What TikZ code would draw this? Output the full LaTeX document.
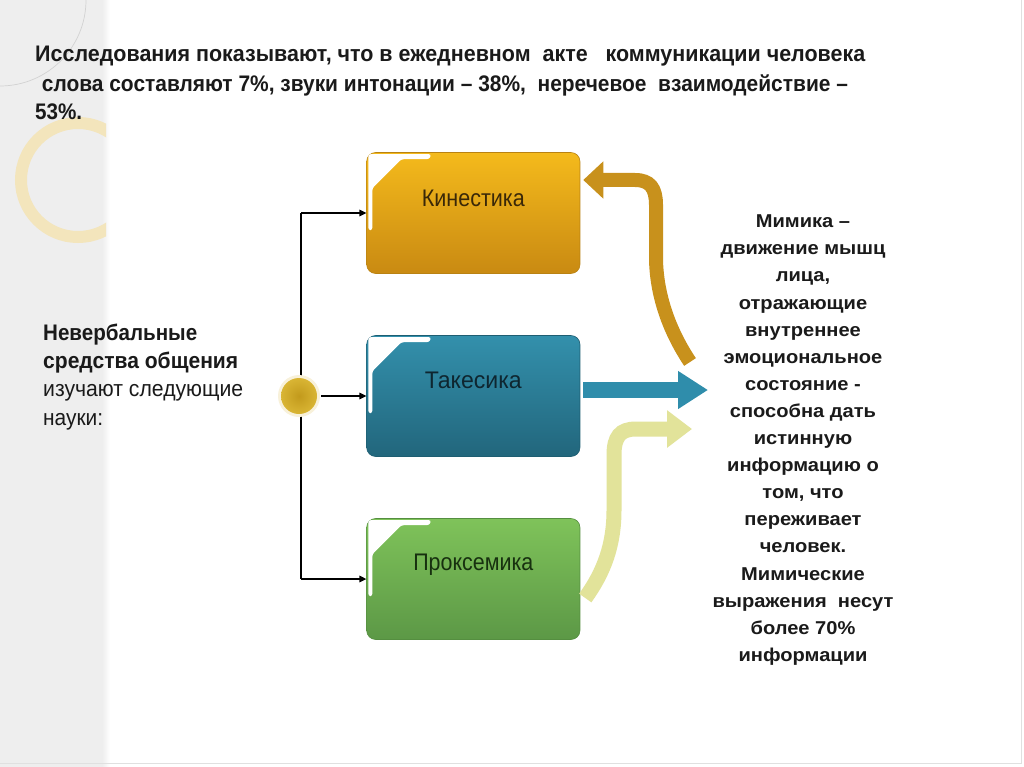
\documentclass[tikz,border=0pt]{standalone}
\usepackage{fontspec}
\setmainfont{Liberation Sans}
\newfontfamily\rfont[FakeStretch=1.08]{Liberation Sans}
\usepackage{graphicx}
\usetikzlibrary{arrows.meta,calc}
\definecolor{bandgray}{HTML}{EEEEEE}
\definecolor{ringc}{HTML}{F3E5BC}
\definecolor{arcc}{HTML}{D2D2D2}
\definecolor{txtdark}{HTML}{1A1A1A}
\definecolor{goldtop}{HTML}{F4BA1C}
\definecolor{goldbot}{HTML}{C98A12}
\definecolor{goldedge}{HTML}{B98212}
\definecolor{goldtxt}{HTML}{3A2808}
\definecolor{tealtop}{HTML}{3390AC}
\definecolor{tealbot}{HTML}{22667C}
\definecolor{tealedge}{HTML}{1E5E72}
\definecolor{tealtxt}{HTML}{0E2630}
\definecolor{greentop}{HTML}{7FC35A}
\definecolor{greenbot}{HTML}{5C9846}
\definecolor{greenedge}{HTML}{558E40}
\definecolor{greentxt}{HTML}{17300F}
\definecolor{garrow}{HTML}{C8911C}
\definecolor{tarrow}{HTML}{2F8DAB}
\definecolor{yarrow}{HTML}{E2E39A}
\definecolor{dotin}{HTML}{C29A1C}
\definecolor{dotout}{HTML}{D9B534}
\definecolor{halo}{HTML}{F8F1DA}
\newcommand\fitto[2]{\resizebox{#1}{\height}{#2}}
\begin{document}
\begin{tikzpicture}[x=1pt,y=-1pt,
  box/.style={rounded corners=9pt, minimum width=213.3pt, minimum height=121pt, inner sep=0pt, line width=0.6pt},
  glare/.style={fill=white, rounded corners=2.5pt},
  boxtxt/.style={anchor=base, inner sep=0pt, font=\fontsize{24pt}{28pt}\selectfont},
  ttl/.style={anchor=base west, inner sep=0pt, text=txtdark, font=\bfseries\fontsize{22.5pt}{26pt}\selectfont},
  lft/.style={anchor=base west, inner sep=0pt, text=txtdark, font=\fontsize{22.5pt}{26pt}\selectfont},
  rtext/.style={align=center, inner sep=0pt, text=txtdark, font=\rfont\bfseries\fontsize{18.6pt}{27.1pt}\selectfont},
  wire/.style={line width=1.4pt, black},
  conn/.style={line width=1.4pt, black, -{Triangle[length=7pt,width=6.5pt]}},
  bigarrow/.style={line cap=butt}
]
\useasboundingbox (0,0) rectangle (1024,767);
% background
\fill[white] (0,0) rectangle (1024,767);
\fill[bandgray] (0,0) rectangle (102,767);
\shade[left color=bandgray, right color=white] (102,0) rectangle (110,767);
\begin{scope}
  \clip (0,0) rectangle (106,767);
  \draw[ringc, line width=12pt] (78,180) circle (57pt);
  \draw[arcc, line width=0.7pt] (0,0) circle (86pt);
\end{scope}
\draw[black!12, line width=0.8pt] (1021,0) -- (1021,763) -- (0,763);

% title
\node[ttl] (t1) at (35,61.7) {\fitto{830pt}{Исследования показывают, что в ежедневном\ \ акте\ \ \ коммуникации человека}};
\node[ttl] (t2) at (41.7,91.7) {\fitto{806pt}{слова составляют 7\%, звуки интонации – 38\%,\ \ неречевое\ \ взаимодействие –}};
\node[ttl] (t3) at (35,120) {\fitto{47pt}{53\%.}};

% left text
\node[lft, font=\bfseries\fontsize{22.5pt}{26pt}\selectfont] (l1) at (43,340) {\fitto{154pt}{Невербальные}};
\node[lft, font=\bfseries\fontsize{22.5pt}{26pt}\selectfont] (l2) at (43,368) {\fitto{195pt}{средства общения}};
\node[lft] (l3) at (43,396) {\fitto{200pt}{изучают следующие}};
\node[lft] (l4) at (43,425) {\fitto{60pt}{науки:}};

% boxes
\node[box, draw=goldedge, top color=goldtop, bottom color=goldbot] (kin) at (473.3,213) {};
\node[box, draw=tealedge, top color=tealtop, bottom color=tealbot] (tak) at (473.3,396) {};
\node[box, draw=greenedge, top color=greentop, bottom color=greenbot] (prx) at (473.3,579) {};
\foreach \b in {kin,tak,prx}{
  \fill[glare] ($(\b.north west)+(2,2)$) -- ($(\b.north west)+(65,2)$) -- ($(\b.north west)+(63,7)$)
     -- ($(\b.north west)+(35,7)$) -- ($(\b.north west)+(6,36)$) -- ($(\b.north west)+(6,78)$)
     -- ($(\b.north west)+(2,78)$) -- cycle;
}
\node[boxtxt, text=goldtxt] (kint) at ($(kin.center)+(0,-6.5)$) {\fitto{103pt}{Кинестика}};
\node[boxtxt, text=tealtxt] (takt) at ($(tak.center)+(0,-8)$) {\fitto{97pt}{Такесика}};
\node[boxtxt, text=greentxt] (prxt) at ($(prx.center)+(0,-8.5)$) {\fitto{120pt}{Проксемика}};

% tree connectors
\coordinate (j1) at (301,213);
\coordinate (j3) at (301,579);
\draw[wire] (j1) -- (j3);
\fill[halo] (299,396) circle (21pt);
\node[circle, minimum size=36pt, inner sep=0pt, inner color=dotin, outer color=dotout] (dot) at (299,396) {};
\draw[conn] (j1) -- (kin.west);
\draw[conn, shorten <=4pt] (dot.east) -- (tak.west);
\draw[conn] (j3) -- (prx.west);

% right text
\node[rtext, anchor=north] (mim) at (803,214.7) {Мимика –\\движение мышц\\лица,\\отражающие\\внутреннее\\эмоциональное\\состояние -\\способна дать\\истинную\\информацию о\\том, что\\переживает\\человек.\\Мимические\\выражения\ \ несут\\более 70\%\\информации};

% big arrows
\coordinate (gs) at (690,362);
\coordinate (gt) at ($(kin.east)+(3,-33)$);
\coordinate (ts) at ($(tak.east)+(3,-6)$);
\coordinate (tt) at (708,390);
\coordinate (ys) at ($(prx.east)+(5,19)$);
\coordinate (yt) at (692,429);
\draw[bigarrow, garrow, line width=14pt, -{Triangle[length=20pt,width=36pt]}]
  (gs) .. controls (672,335) and (657,300) .. (656,260) -- (656,205)
  .. controls (656,188) and (650,180) .. (635,180) -- (gt);
\draw[bigarrow, tarrow, line width=16pt, -{Triangle[length=30pt,width=36pt]}] (ts) -- (tt);
\draw[bigarrow, yarrow, line width=15pt, -{Triangle[length=25pt,width=36pt]}]
  (ys) .. controls (604,572) and (614,545) .. (614,510) -- (614,455)
  .. controls (614,437) and (620,429) .. (636,429) -- (yt);
\end{tikzpicture}
\end{document}
